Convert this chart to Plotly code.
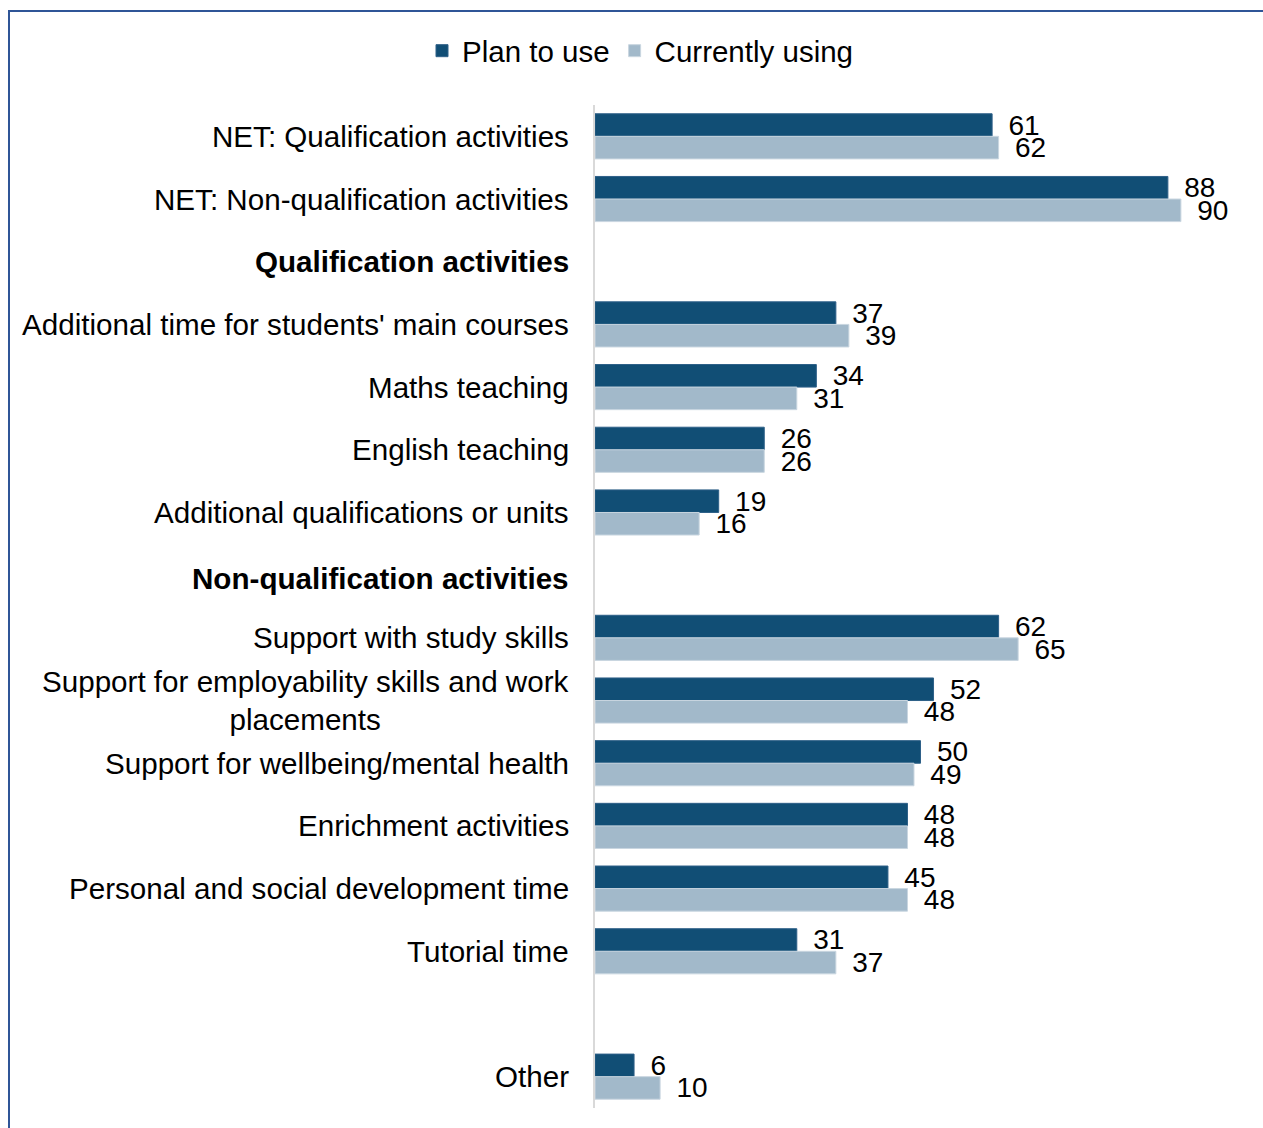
import plotly.graph_objects as go

# Row labels, top to bottom (headers and a spacer carry no values)
categories = [
    "NET: Qualification activities",
    "NET: Non-qualification activities",
    "Qualification activities",
    "Additional time for students' main courses",
    "Maths teaching",
    "English teaching",
    "Additional qualifications or units",
    "Non-qualification activities",
    "Support with study skills",
    "Support for employability skills and work placements",
    "Support for wellbeing/mental health",
    "Enrichment activities",
    "Personal and social development time",
    "Tutorial time",
    " ",
    "Other",
]
header_rows = ["Qualification activities", "Non-qualification activities"]
label_text = {
    "Support for employability skills and work placements":
        "Support for employability skills and work<br>placements",
}

plan_to_use = [61, 88, None, 37, 34, 26, 19, None, 62, 52, 50, 48, 45, 31, None, 6]
currently_using = [62, 90, None, 39, 31, 26, 16, None, 65, 48, 49, 48, 48, 37, None, 10]

FONT = "Liberation Sans, Arial, sans-serif"
DARK = "#114E75"
LIGHT = "#A2B9CA"
PAD = "\u00a0\u2009"

fig = go.Figure()
for name, vals, color, edge in [
    ("Plan to use", plan_to_use, DARK, "#2E6088"),
    ("Currently using", currently_using, LIGHT, "#C9D6E0"),
]:
    fig.add_trace(go.Bar(
        name=name,
        y=categories,
        x=vals,
        orientation="h",
        marker=dict(color=color, line=dict(color=edge, width=1)),
        text=[PAD + str(v) if v is not None else "" for v in vals],
        textposition="outside",
        textfont=dict(family=FONT, size=28, color="#000000"),
        constraintext="none",
        cliponaxis=False,
    ))

# Category labels drawn as centred annotations so wrapped lines stay centred
annotations = []
for cat in categories:
    if not cat.strip():
        continue
    txt = label_text.get(cat, cat)
    shift = 0
    if cat in header_rows:
        txt = "<b>" + txt + "</b>"
    if cat == "Non-qualification activities":
        shift = -3
    annotations.append(dict(
        x=0, xref="paper", y=cat, yref="y",
        xanchor="right", yanchor="middle", xshift=-24, yshift=shift,
        text=txt, showarrow=False, align="center",
        font=dict(family=FONT, size=29.6, color="#000000"),
    ))

L, R, T, B = 595, 17, 105, 20
W, H = 1263, 1128
pw, ph = W - L - R, H - T - B


def px_x(p):
    return (p - L) / pw


def px_y(p):
    return (H - B - p) / ph


fig.update_layout(
    width=W, height=H,
    margin=dict(l=L, r=R, t=T, b=B),
    paper_bgcolor="white", plot_bgcolor="white",
    barmode="group", bargap=0.28, bargroupgap=0,
    font=dict(family=FONT, size=28, color="#000000"),
    showlegend=True,
    legend=dict(
        orientation="h", x=px_x(422), xanchor="left",
        y=px_y(51), yanchor="middle",
        font=dict(family=FONT, size=29.5, color="#000000"),
        itemwidth=30, traceorder="normal",
    ),
    xaxis=dict(range=[0, 100], visible=False, fixedrange=True),
    yaxis=dict(
        type="category", categoryorder="array", categoryarray=categories,
        autorange="reversed", showticklabels=False, ticks="",
        showline=True, linecolor="#D9D9D9", linewidth=1.5,
        showgrid=False, zeroline=False,
    ),
    annotations=annotations,
    shapes=[dict(
        type="rect", xref="paper", yref="paper",
        x0=px_x(9), x1=px_x(1280), y0=px_y(1140), y1=px_y(11),
        line=dict(color="#2F5597", width=2), fillcolor="rgba(0,0,0,0)",
    )],
)

fig.write_html("out.html")
